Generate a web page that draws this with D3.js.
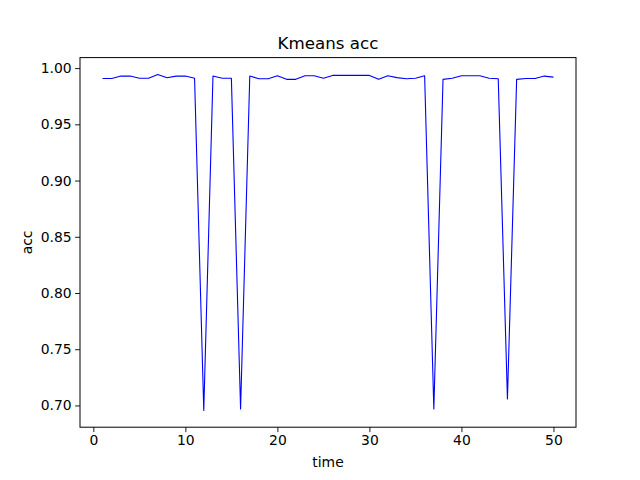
<!DOCTYPE html>
<html>
<head>
<meta charset="utf-8">
<script src="https://cdn.jsdelivr.net/npm/d3@7"></script>
<style>
body { margin: 0; background: #fff; }
text { font-family: "DejaVu Sans", sans-serif; fill: #000; }
</style>
</head>
<body>
<svg id="chart" width="640" height="480"></svg>
<script>
// time steps 1..50
var times = [1,2,3,4,5,6,7,8,9,10,11,12,13,14,15,16,17,18,19,20,21,22,23,24,25,
             26,27,28,29,30,31,32,33,34,35,36,37,38,39,40,41,42,43,44,45,46,47,48,49,50];
var acc = [0.9908,0.9908,0.9929,0.9929,0.9910,0.9910,0.9944,0.9914,0.9929,0.9929,
           0.9910,0.6956,0.9929,0.9910,0.9910,0.6968,0.9929,0.9905,0.9905,0.9932,
           0.9900,0.9900,0.9932,0.9932,0.9910,0.9935,0.9935,0.9935,0.9935,0.9935,
           0.9900,0.9932,0.9915,0.9905,0.9910,0.9932,0.6968,0.9900,0.9910,0.9932,
           0.9932,0.9932,0.9910,0.9905,0.7057,0.9900,0.9907,0.9907,0.9929,0.9920];
var xTicks = [0,10,20,30,40,50];
var yTicks = [0.70,0.75,0.80,0.85,0.90,0.95,1.00];

var svg = d3.select('#chart');
// plot area (note: "top" is reserved on window, so use other names)
var pl = 80, pr = 576, pt = 57.6, pb = 427.2;

var data = times.map(function(t, i) { return {t: t, v: acc[i]}; });

var xr = d3.extent(times), xm = (xr[1] - xr[0]) * 0.05;
var yr = d3.extent(acc), ym = (yr[1] - yr[0]) * 0.05;
var x = d3.scaleLinear().domain([xr[0] - xm, xr[1] + xm]).range([pl, pr]);
var y = d3.scaleLinear().domain([yr[0] - ym, yr[1] + ym]).range([pb, pt]);

var line_func = d3.line().x(function(d) { return x(d.t); }).y(function(d) { return y(d.v); });
svg.append('path')
    .attr('d', line_func(data))
    .attr('stroke', '#0000ff')
    .attr('stroke-width', 1.1)
    .attr('stroke-linejoin', 'round')
    .attr('fill', 'none');

var xAxis = d3.axisBottom(x).tickValues(xTicks).tickFormat(d3.format('d')).tickSizeInner(4.9).tickSizeOuter(0).tickPadding(3.5);
var yAxis = d3.axisLeft(y).tickValues(yTicks).tickFormat(d3.format('.2f')).tickSizeInner(4.9).tickSizeOuter(0).tickPadding(3.5);
var gx = svg.append('g').attr('transform', 'translate(0,' + pb + ')').call(xAxis);
var gy = svg.append('g').attr('transform', 'translate(' + pl + ',0)').call(yAxis);
[gx, gy].forEach(function(g) {
    g.select('.domain').remove();
    g.selectAll('line').attr('stroke', '#000').attr('stroke-width', 0.9);
    g.selectAll('text').attr('font-size', '13.9px').attr('font-family', 'DejaVu Sans').attr('fill', '#000');
});

// frame
svg.append('rect')
    .attr('x', pl).attr('y', pt)
    .attr('width', pr - pl).attr('height', pb - pt)
    .attr('fill', 'none').attr('stroke', '#000').attr('stroke-width', 1);

svg.append('text').attr('x', (pl + pr) / 2).attr('y', 49)
    .attr('text-anchor', 'middle').attr('font-size', '16.7px').text('Kmeans acc');
svg.append('text').attr('x', (pl + pr) / 2).attr('y', 467)
    .attr('text-anchor', 'middle').attr('font-size', '13.9px').text('time');
svg.append('text')
    .attr('transform', 'translate(32,' + ((pt + pb) / 2) + ') rotate(-90)')
    .attr('text-anchor', 'middle').attr('font-size', '13.9px').text('acc');
</script>
</body>
</html>
